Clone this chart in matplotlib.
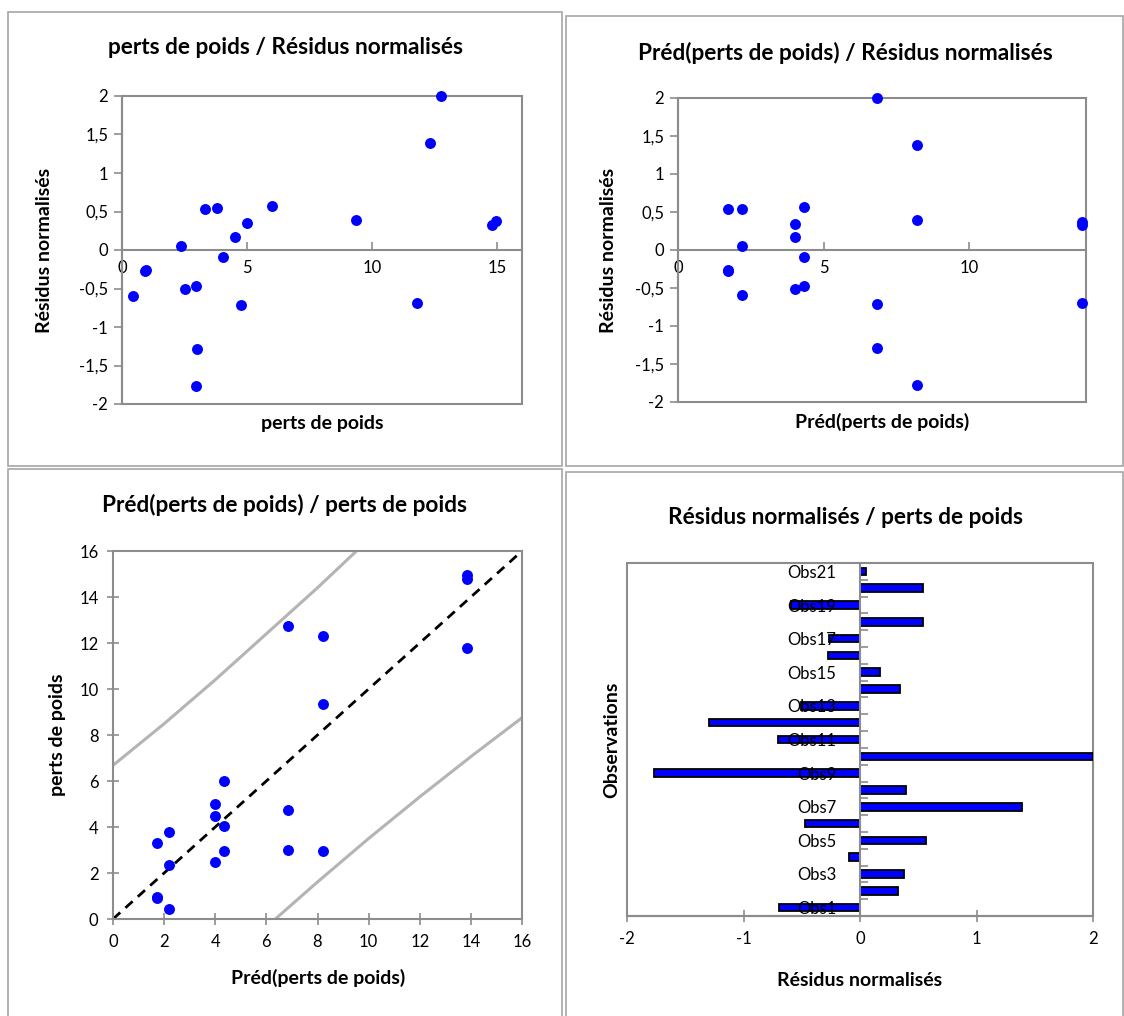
import matplotlib
matplotlib.use("Agg")
import matplotlib.pyplot as plt
from matplotlib.patches import Rectangle
from matplotlib.ticker import MultipleLocator, FixedLocator, NullFormatter

plt.rcParams['font.family'] = ['Lato', 'DejaVu Sans']
plt.rcParams['axes.unicode_minus'] = False

# ---------------- data ----------------
observations = ["Obs%d" % i for i in range(1, 22)]
actual = [11.8, 14.8, 14.95, 4.05, 6.0, 2.95, 12.3, 9.35, 2.95, 12.75, 4.75,
          3.0, 2.5, 5.0, 4.5, 0.9, 0.95, 3.3, 0.45, 3.8, 2.35]
predicted = [13.85, 13.85, 13.85, 4.33, 4.33, 4.33, 8.2, 8.2, 8.2, 6.83, 6.83,
             6.83, 4.0, 4.0, 4.0, 1.72, 1.72, 1.72, 2.2, 2.2, 2.2]
residuals = [-0.692, 0.329, 0.375, -0.095, 0.569, -0.468, 1.388, 0.394, -1.772,
             2.0, -0.708, -1.292, -0.508, 0.345, 0.175, -0.277, -0.265, 0.538,
             -0.594, 0.545, 0.055]
upper_x = [0, 2, 4, 6, 8, 9.6]
upper_y = [6.68, 8.49, 10.4, 12.4, 14.4, 16.08]
lower_x = [6.3, 8, 10, 12, 14, 16]
lower_y = [-0.05, 1.61, 3.50, 5.31, 7.06, 8.75]

W, H = 1124, 1016
fig = plt.figure(figsize=(W / 100, H / 100), dpi=100)

GREY = '#8c8c8c'
FRAME = '#a6a6a6'
BLUE = '#0000ff'
TICK_FS = 12
LAB_FS = 14
TITLE_FS = 16.3
MS = 62


def rect(l, t, r, b):
    return [l / W, 1 - b / H, (r - l) / W, (b - t) / H]


def frame(l, t, r, b):
    fig.add_artist(Rectangle((l / W, 1 - b / H), (r - l) / W, (b - t) / H,
                             transform=fig.transFigure, fill=False,
                             edgecolor=FRAME, lw=1.2))


def ftext(x, y, s, **kw):
    fig.text(x / W, 1 - y / H, s, ha='center', va='center', **kw)


def box(ax):
    ax.add_patch(Rectangle((0, 0), 1, 1, transform=ax.transAxes, fill=False,
                           edgecolor=GREY, lw=1.5, clip_on=False, zorder=1))


def comma(v, p):
    return ('%g' % v).replace('.', ',')


# panel frames
frame(8, 12, 562, 466)
frame(566, 16, 1123, 466)
frame(8, 469, 562, 1020)
frame(566, 472, 1123, 1020)

# ---------------- top-left ----------------
ax1 = fig.add_axes(rect(122, 96, 522, 404))
ax1.scatter(actual, residuals, s=MS, color=BLUE, zorder=3, clip_on=False, linewidths=0)
ax1.set_xlim(0, 16)
ax1.set_ylim(-2, 2)
for sp in ['top', 'right']:
    ax1.spines[sp].set_visible(False)
ax1.spines['bottom'].set_position(('data', 0))
for sp in ['bottom', 'left']:
    ax1.spines[sp].set_color(GREY)
    ax1.spines[sp].set_linewidth(1.5)
box(ax1)
ax1.xaxis.set_major_locator(MultipleLocator(5))
ax1.yaxis.set_major_locator(MultipleLocator(0.5))
ax1.tick_params(axis='x', direction='in', length=6, color=GREY, width=1.2,
                labelsize=TICK_FS, pad=7)
ax1.tick_params(axis='y', direction='out', length=6, color=GREY, width=1.2,
                labelsize=TICK_FS, pad=4)
ax1.yaxis.set_major_formatter(plt.FuncFormatter(comma))
ftext(285, 47, "perts de poids / Résidus normalisés", fontsize=TITLE_FS, fontweight='bold')
ftext(322, 424, "perts de poids", fontsize=LAB_FS, fontweight='bold')
ftext(45, 250, "Résidus normalisés", fontsize=LAB_FS, fontweight='bold', rotation=90)

# ---------------- top-right ----------------
ax2 = fig.add_axes(rect(678, 98, 1086, 402))
ax2.scatter(predicted, residuals, s=MS, color=BLUE, zorder=3, clip_on=False, linewidths=0)
ax2.set_xlim(0, 14)
ax2.set_ylim(-2, 2)
for sp in ['top', 'right']:
    ax2.spines[sp].set_visible(False)
ax2.spines['bottom'].set_position(('data', 0))
for sp in ['bottom', 'left']:
    ax2.spines[sp].set_color(GREY)
    ax2.spines[sp].set_linewidth(1.5)
box(ax2)
ax2.xaxis.set_major_locator(FixedLocator([0, 5, 10]))
ax2.yaxis.set_major_locator(MultipleLocator(0.5))
ax2.tick_params(axis='x', direction='in', length=6, color=GREY, width=1.2,
                labelsize=TICK_FS, pad=7)
ax2.tick_params(axis='y', direction='out', length=6, color=GREY, width=1.2,
                labelsize=TICK_FS, pad=4)
ax2.yaxis.set_major_formatter(plt.FuncFormatter(comma))
ftext(845, 53, "Préd(perts de poids) / Résidus normalisés", fontsize=TITLE_FS, fontweight='bold')
ftext(882, 422, "Préd(perts de poids)", fontsize=LAB_FS, fontweight='bold')
ftext(609, 250, "Résidus normalisés", fontsize=LAB_FS, fontweight='bold', rotation=90)

# ---------------- bottom-left ----------------
ax3 = fig.add_axes(rect(113, 551, 522, 919))
ax3.plot(upper_x, upper_y, color='#b4b4b4', lw=2.2, zorder=2)
ax3.plot(lower_x, lower_y, color='#b4b4b4', lw=2.2, zorder=2)
ax3.plot([0, 16], [0, 16], color='black', lw=2, ls=(0, (3.5, 2.5)), zorder=2)
ax3.scatter(predicted, actual, s=MS, color=BLUE, zorder=3, clip_on=False, linewidths=0)
ax3.set_xlim(0, 16)
ax3.set_ylim(0, 16)
for sp in ax3.spines.values():
    sp.set_color(GREY)
    sp.set_linewidth(1.5)
ax3.xaxis.set_major_locator(MultipleLocator(2))
ax3.yaxis.set_major_locator(MultipleLocator(2))
ax3.tick_params(direction='inout', length=9, color=GREY, width=1.2,
                labelsize=TICK_FS, pad=6)
ftext(285, 505, "Préd(perts de poids) / perts de poids", fontsize=TITLE_FS, fontweight='bold')
ftext(318, 978, "Préd(perts de poids)", fontsize=LAB_FS, fontweight='bold')
ftext(57, 735, "perts de poids", fontsize=LAB_FS, fontweight='bold', rotation=90)

# ---------------- bottom-right ----------------
ax4 = fig.add_axes(rect(627, 563, 1093, 916))
ypos = list(range(1, len(observations) + 1))
ax4.barh(ypos, residuals, height=0.45, color=BLUE, edgecolor='black', lw=1.3, zorder=2)
ax4.set_axisbelow(False)
ax4.set_xlim(-2, 2)
ax4.set_ylim(0.5, len(observations) + 0.5)
for sp in ['top', 'right']:
    ax4.spines[sp].set_visible(False)
ax4.spines['left'].set_position(('data', 0))
for sp in ['bottom', 'left']:
    ax4.spines[sp].set_color(GREY)
    ax4.spines[sp].set_linewidth(1.5)
box(ax4)
ax4.xaxis.set_major_locator(MultipleLocator(1))
ax4.tick_params(axis='x', direction='inout', length=9, color=GREY, width=1.2,
                labelsize=TICK_FS, pad=6)
ax4.yaxis.set_major_locator(FixedLocator(ypos[::2]))
ax4.set_yticklabels(observations[::2])
ax4.yaxis.set_minor_locator(FixedLocator([p + 0.5 for p in ypos[:-1]]))
ax4.yaxis.set_minor_formatter(NullFormatter())
ax4.tick_params(axis='y', which='major', length=0, labelsize=TICK_FS, pad=17)
ax4.tick_params(axis='y', which='minor', direction='in', length=6, color=GREY, width=1.2)
ftext(845, 518, "Résidus normalisés / perts de poids", fontsize=TITLE_FS, fontweight='bold')
ftext(860, 980, "Résidus normalisés", fontsize=LAB_FS, fontweight='bold')
ftext(612, 740, "Observations", fontsize=LAB_FS, fontweight='bold', rotation=90)

fig.savefig("out.png", dpi=100, facecolor='white')
